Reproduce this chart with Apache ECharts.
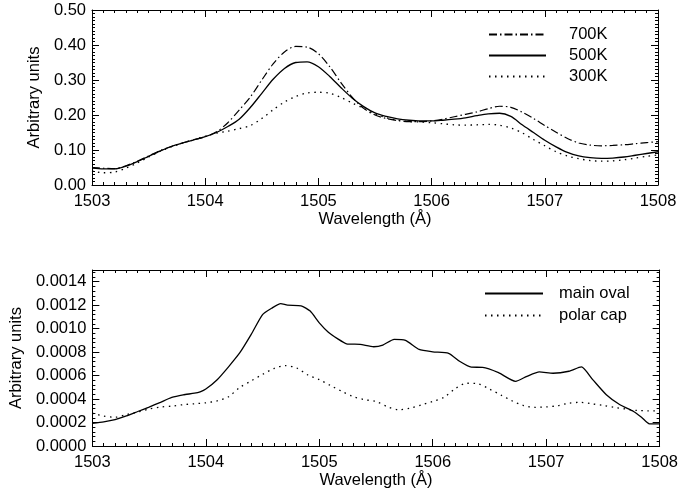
<!DOCTYPE html>
<html>
<head>
<meta charset="utf-8">
<script src="https://cdn.jsdelivr.net/npm/echarts@6/dist/echarts.min.js"></script>
<style>
  html, body { margin: 0; padding: 0; background: #fff; }
  #chart { width: 681px; height: 490px; }
</style>
</head>
<body>
<div id="chart"></div>
<script>
// top panel: wavelength grid (0.1 A steps) and three temperature profiles
const waveTop = [
  1503.0, 1503.1, 1503.2, 1503.3, 1503.4, 1503.5, 1503.6, 1503.7, 1503.8, 1503.9,
  1504.0, 1504.1, 1504.2, 1504.3, 1504.4, 1504.5, 1504.6, 1504.7, 1504.8, 1504.9,
  1505.0, 1505.1, 1505.2, 1505.3, 1505.4, 1505.5, 1505.6, 1505.7, 1505.8, 1505.9,
  1506.0, 1506.1, 1506.2, 1506.3, 1506.4, 1506.5, 1506.6, 1506.7, 1506.8, 1506.9,
  1507.0, 1507.1, 1507.2, 1507.3, 1507.4, 1507.5, 1507.6, 1507.7, 1507.8, 1507.9,
  1508.0
];
const k700 = [
  0.050, 0.048, 0.047, 0.055, 0.068, 0.083, 0.098, 0.110, 0.120, 0.129,
  0.138, 0.152, 0.178, 0.214, 0.252, 0.300, 0.346, 0.380, 0.396, 0.394,
  0.375, 0.338, 0.292, 0.250, 0.219, 0.200, 0.190, 0.184, 0.181, 0.181,
  0.183, 0.188, 0.195, 0.202, 0.209, 0.218, 0.225, 0.222, 0.208, 0.190,
  0.170, 0.151, 0.133, 0.120, 0.114, 0.112, 0.113, 0.115, 0.118, 0.121,
  0.124
];
const k500 = [
  0.048, 0.046, 0.046, 0.054, 0.067, 0.082, 0.097, 0.110, 0.120, 0.129,
  0.138, 0.150, 0.167, 0.188, 0.222, 0.262, 0.302, 0.333, 0.350, 0.352,
  0.338, 0.310, 0.278, 0.248, 0.224, 0.206, 0.196, 0.189, 0.185, 0.183,
  0.183, 0.185, 0.188, 0.192, 0.198, 0.203, 0.205, 0.196, 0.172, 0.150,
  0.128, 0.109, 0.093, 0.083, 0.078, 0.076, 0.077, 0.080, 0.085, 0.090,
  0.095
];
const k300 = [
  0.040, 0.035, 0.037, 0.048, 0.063, 0.080, 0.096, 0.109, 0.120, 0.130,
  0.139, 0.148, 0.154, 0.161, 0.170, 0.190, 0.215, 0.237, 0.253, 0.263,
  0.265, 0.262, 0.250, 0.234, 0.219, 0.203, 0.192, 0.185, 0.181, 0.180,
  0.178, 0.175, 0.172, 0.171, 0.172, 0.173, 0.171, 0.163, 0.149, 0.130,
  0.112, 0.095, 0.083, 0.075, 0.070, 0.068, 0.069, 0.072, 0.077, 0.082,
  0.086
];

// bottom panel: main oval (irregular sampling) and polar cap (0.1 A steps)
const waveOval = [
  1503.00, 1503.10, 1503.20, 1503.30, 1503.40, 1503.50, 1503.60, 1503.70, 1503.80, 1503.90,
  1503.95, 1504.00, 1504.10, 1504.20, 1504.30, 1504.40, 1504.50, 1504.58, 1504.66, 1504.72,
  1504.84, 1504.92, 1505.00, 1505.08, 1505.16, 1505.24, 1505.36, 1505.48, 1505.56, 1505.66,
  1505.76, 1505.88, 1506.00, 1506.14, 1506.24, 1506.34, 1506.44, 1506.58, 1506.73, 1506.83,
  1506.94, 1507.06, 1507.20, 1507.31, 1507.41, 1507.53, 1507.65, 1507.77, 1507.84, 1507.91,
  1508.00
];
const mainOval = [
  0.000194, 0.000206, 0.000225, 0.000256, 0.000294, 0.000332, 0.000372, 0.000414, 0.000436, 0.000450,
  0.000462, 0.000485, 0.000565, 0.000675, 0.000795, 0.000951, 0.001120, 0.001174, 0.001214, 0.001200,
  0.001195, 0.001150, 0.001050, 0.000970, 0.000915, 0.000871, 0.000866, 0.000846, 0.000860, 0.000909,
  0.000900, 0.000823, 0.000803, 0.000790, 0.000720, 0.000672, 0.000670, 0.000625, 0.000551, 0.000594,
  0.000631, 0.000620, 0.000637, 0.000674, 0.000566, 0.000437, 0.000351, 0.000294, 0.000245, 0.000189,
  0.000189
];
const polarCap = [
  0.000280, 0.000255, 0.000245, 0.000268, 0.000289, 0.000315, 0.000332, 0.000340, 0.000352, 0.000360,
  0.000368, 0.000385, 0.000420, 0.000500, 0.000555, 0.000610, 0.000660, 0.000685, 0.000665, 0.000605,
  0.000566, 0.000515, 0.000465, 0.000420, 0.000395, 0.000380, 0.000335, 0.000309, 0.000322, 0.000350,
  0.000380, 0.000415, 0.000490, 0.000535, 0.000530, 0.000485, 0.000435, 0.000385, 0.000345, 0.000330,
  0.000333, 0.000343, 0.000365, 0.000372, 0.000360, 0.000346, 0.000330, 0.000315, 0.000303, 0.000300,
  0.000300
];

const FONT = "'Liberation Sans', Helvetica, Arial, sans-serif";
const INK = '#000';
const DOTTED = [1.5, 4.5];
const DASHDOT = [8, 3, 1.5, 3];

function pairs(xs, ys) {
  return xs.map((x, i) => [x, ys[i]]);
}

// one value axis; top/right copies only carry the ticks of the box
function valAxis(grid, pos, min, max, interval, minorSplit, opts) {
  const mirror = pos === 'top' || pos === 'right';
  return Object.assign({
    type: 'value',
    gridIndex: grid,
    position: pos,
    min: min,
    max: max,
    interval: interval,
    splitLine: { show: false },
    axisLine: { show: true, onZero: false, lineStyle: { color: INK, width: 1 } },
    axisTick: { show: true, inside: true, length: 7, lineStyle: { color: INK } },
    minorTick: { show: true, splitNumber: minorSplit, length: 3, lineStyle: { color: INK } },
    axisLabel: { show: !mirror, color: INK, fontFamily: FONT, fontSize: 16.5 }
  }, opts || {});
}

const xLabel = { color: INK, fontFamily: FONT, fontSize: 16.5, margin: 8, formatter: v => String(v) };

const chart = echarts.init(document.getElementById('chart'));

const option = {
  animation: false,
  backgroundColor: '#fff',
  grid: [
    { left: 92, right: 23, top: 10, height: 175 },
    { left: 92, right: 21, top: 270, height: 176 }
  ],
  xAxis: [
    valAxis(0, 'bottom', 1503, 1508, 1, 10, {
      name: 'Wavelength (Å)', nameLocation: 'middle', nameGap: 22,
      nameTextStyle: { color: INK, fontFamily: FONT, fontSize: 16.5 },
      axisLabel: xLabel
    }),
    valAxis(0, 'top', 1503, 1508, 1, 10),
    valAxis(1, 'bottom', 1503, 1508, 1, 10, {
      name: 'Wavelength (Å)', nameLocation: 'middle', nameGap: 24,
      nameTextStyle: { color: INK, fontFamily: FONT, fontSize: 16.5 },
      axisLabel: xLabel
    }),
    valAxis(1, 'top', 1503, 1508, 1, 10)
  ],
  yAxis: [
    valAxis(0, 'left', 0, 0.5, 0.1, 10, {
      name: 'Arbitrary units',
      nameLocation: 'middle',
      nameGap: 47,
      nameTextStyle: { color: INK, fontFamily: FONT, fontSize: 16.5 },
      axisLabel: {
        color: INK, fontFamily: FONT, fontSize: 16.5, margin: 6,
        formatter: v => v.toFixed(2)
      }
    }),
    valAxis(0, 'right', 0, 0.5, 0.1, 10),
    valAxis(1, 'left', 0, 0.0015, 0.0002, 5, {
      name: 'Arbitrary units',
      nameLocation: 'middle',
      nameGap: 62,
      nameTextStyle: { color: INK, fontFamily: FONT, fontSize: 16.5 },
      axisLabel: {
        color: INK, fontFamily: FONT, fontSize: 16.5, margin: 6,
        showMinLabel: true,
        showMaxLabel: false,
        formatter: v => v.toFixed(4)
      }
    }),
    valAxis(1, 'right', 0, 0.0015, 0.0002, 5)
  ],
  legend: [
    {
      data: ['700K', '500K', '300K'],
      orient: 'vertical',
      left: 488, top: 26,
      padding: 0,
      itemWidth: 57, itemHeight: 10, itemGap: 4,
      selectedMode: false,
      itemStyle: { opacity: 0 },
      textStyle: { color: INK, fontFamily: FONT, fontSize: 16.5, padding: [0, 0, 0, 18] }
    },
    {
      data: ['main oval', 'polar cap'],
      orient: 'vertical',
      left: 484, top: 285,
      padding: 0,
      itemWidth: 58, itemHeight: 10, itemGap: 5,
      selectedMode: false,
      itemStyle: { opacity: 0 },
      textStyle: { color: INK, fontFamily: FONT, fontSize: 16.5, padding: [0, 0, 0, 11] }
    }
  ],
  series: [
    {
      name: '700K', type: 'line', xAxisIndex: 0, yAxisIndex: 0,
      data: pairs(waveTop, k700), smooth: 0.3, symbol: 'none',
      lineStyle: { color: INK, width: 1.2, type: DASHDOT }, itemStyle: { color: INK }
    },
    {
      name: '500K', type: 'line', xAxisIndex: 0, yAxisIndex: 0,
      data: pairs(waveTop, k500), smooth: 0.3, symbol: 'none',
      lineStyle: { color: INK, width: 1.3, type: 'solid' }, itemStyle: { color: INK }
    },
    {
      name: '300K', type: 'line', xAxisIndex: 0, yAxisIndex: 0,
      data: pairs(waveTop, k300), smooth: 0.3, symbol: 'none',
      lineStyle: { color: INK, width: 1.3, type: DOTTED }, itemStyle: { color: INK }
    },
    {
      name: 'main oval', type: 'line', xAxisIndex: 2, yAxisIndex: 2,
      data: pairs(waveOval, mainOval), smooth: 0.2, symbol: 'none',
      lineStyle: { color: INK, width: 1.3, type: 'solid' }, itemStyle: { color: INK }
    },
    {
      name: 'polar cap', type: 'line', xAxisIndex: 2, yAxisIndex: 2,
      data: pairs(waveTop, polarCap), smooth: 0.3, symbol: 'none',
      lineStyle: { color: INK, width: 1.3, type: DOTTED }, itemStyle: { color: INK }
    }
  ]
};

chart.setOption(option);
</script>
</body>
</html>
